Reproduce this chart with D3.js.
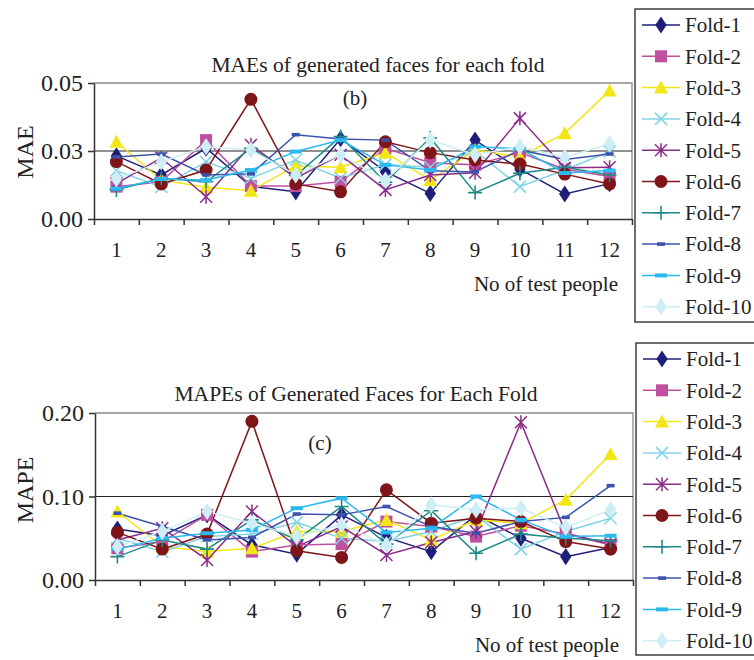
<!DOCTYPE html>
<html>
<head>
<meta charset="utf-8">
<script src="https://cdn.jsdelivr.net/npm/d3@7"></script>
<style>
  body { margin: 0; background: #fff; }
  svg { display: block; }
  text { font-family: "Liberation Serif", "DejaVu Serif", serif; fill: #222; }
</style>
</head>
<body>
<script>
const W = 754, H = 660;

// categories: test people 1..12
const people = ["1", "2", "3", "4", "5", "6", "7", "8", "9", "10", "11", "12"];
const folds = ["Fold-1", "Fold-2", "Fold-3", "Fold-4", "Fold-5", "Fold-6", "Fold-7", "Fold-8", "Fold-9", "Fold-10"];

// MAE per fold (panel b)
const mae1 = [0.0232, 0.0162, 0.026, 0.012, 0.010, 0.0295, 0.0174, 0.0094, 0.029, 0.0183, 0.0092, 0.013];
const mae2 = [0.0119, 0.0137, 0.029, 0.0121, 0.0121, 0.0137, 0.026, 0.0207, 0.0199, 0.0244, 0.0183, 0.0156];
const mae3 = [0.0284, 0.0143, 0.0117, 0.0104, 0.0195, 0.019, 0.0244, 0.0143, 0.0254, 0.0228, 0.0315, 0.0472];
const mae4 = [0.0178, 0.0118, 0.021, 0.015, 0.0217, 0.015, 0.020, 0.019, 0.025, 0.0119, 0.018, 0.0248];
const mae5 = [0.013, 0.0225, 0.0082, 0.0272, 0.015, 0.0236, 0.0107, 0.0162, 0.017, 0.037, 0.0188, 0.019];
const mae6 = [0.0211, 0.0129, 0.018, 0.044, 0.0129, 0.010, 0.0284, 0.0244, 0.0217, 0.0202, 0.0165, 0.0129];
const mae7 = [0.0107, 0.015, 0.0137, 0.026, 0.016, 0.0303, 0.0135, 0.0298, 0.0097, 0.0168, 0.019, 0.0162];
const mae8 = [0.0228, 0.0239, 0.0162, 0.0166, 0.031, 0.0294, 0.029, 0.0177, 0.0173, 0.0254, 0.0219, 0.0239];
const mae9 = [0.0112, 0.0147, 0.0143, 0.018, 0.0248, 0.029, 0.0199, 0.018, 0.0266, 0.0258, 0.0169, 0.0178];
const mae10 = [0.0147, 0.021, 0.0266, 0.0254, 0.0162, 0.0236, 0.0143, 0.029, 0.0236, 0.0266, 0.0227, 0.0276];

// MAPE per fold (panel c)
const mape1 = [0.061, 0.053, 0.078, 0.042, 0.031, 0.078, 0.051, 0.034, 0.078, 0.050, 0.028, 0.039];
const mape2 = [0.038, 0.046, 0.078, 0.034, 0.042, 0.043, 0.070, 0.064, 0.052, 0.065, 0.055, 0.042];
const mape3 = [0.082, 0.040, 0.034, 0.038, 0.058, 0.058, 0.072, 0.048, 0.072, 0.068, 0.096, 0.151];
const mape4 = [0.050, 0.034, 0.052, 0.055, 0.069, 0.050, 0.046, 0.058, 0.077, 0.037, 0.058, 0.074];
const mape5 = [0.048, 0.062, 0.024, 0.082, 0.040, 0.064, 0.030, 0.045, 0.058, 0.189, 0.056, 0.043];
const mape6 = [0.057, 0.037, 0.055, 0.190, 0.035, 0.027, 0.108, 0.068, 0.074, 0.070, 0.046, 0.037];
const mape7 = [0.028, 0.048, 0.037, 0.072, 0.048, 0.088, 0.043, 0.083, 0.032, 0.055, 0.050, 0.047];
const mape8 = [0.080, 0.064, 0.048, 0.051, 0.079, 0.078, 0.088, 0.064, 0.056, 0.070, 0.075, 0.113];
const mape9 = [0.037, 0.050, 0.056, 0.060, 0.086, 0.098, 0.057, 0.062, 0.100, 0.072, 0.052, 0.053];
const mape10 = [0.040, 0.058, 0.082, 0.068, 0.052, 0.066, 0.042, 0.090, 0.084, 0.086, 0.063, 0.084];

// y ticks
const maeTicks = [0, 0.025, 0.05];
const maeTickLabels = ["0.00", "0.03", "0.05"];
const mapeTicks = [0, 0.1, 0.2];
const mapeTickLabels = ["0.00", "0.10", "0.20"];

// series styling (Excel-like palette)
const colors = ["#1f1f7a", "#c0509f", "#f2e614", "#80d4e4", "#8a2c88", "#7f1518", "#1d8a87", "#3c53ae", "#2bb9ef", "#cdeef5"];
const shapes = ["diamond", "square", "triangle", "x", "star", "circle", "plus", "dash", "bar", "diamond"];

let svg = d3.select("body").append("svg").attr("width", W).attr("height", H);

function drawMarker(g, shape, color, x, y) {
  if (shape === "diamond") {
    g.append("path").attr("d", d3.symbol(d3.symbolDiamond, 85)())
      .attr("transform", "translate(" + x + "," + y + ") scale(1.15,1)")
      .attr("fill", color);
  } else if (shape === "square") {
    g.append("rect").attr("x", x - 6).attr("y", y - 6).attr("width", 12).attr("height", 12).attr("fill", color);
  } else if (shape === "triangle") {
    g.append("path").attr("d", "M" + x + "," + (y - 7) + "L" + (x + 7) + "," + (y + 6) + "L" + (x - 7) + "," + (y + 6) + "Z")
      .attr("fill", color);
  } else if (shape === "circle") {
    g.append("circle").attr("cx", x).attr("cy", y).attr("r", 6.5).attr("fill", color);
  } else if (shape === "x" || shape === "star") {
    let s = 6;
    let d = "M" + (x - s) + "," + (y - s) + "L" + (x + s) + "," + (y + s) +
      "M" + (x - s) + "," + (y + s) + "L" + (x + s) + "," + (y - s);
    if (shape === "star") d += "M" + x + "," + (y - 7) + "L" + x + "," + (y + 7);
    g.append("path").attr("d", d).attr("stroke", color).attr("stroke-width", 1.5).attr("fill", "none");
  } else if (shape === "plus") {
    g.append("path").attr("d", "M" + (x - 7) + "," + y + "L" + (x + 7) + "," + y + "M" + x + "," + (y - 7) + "L" + x + "," + (y + 7))
      .attr("stroke", color).attr("stroke-width", 1.6).attr("fill", "none");
  } else if (shape === "dash") {
    g.append("rect").attr("x", x - 4).attr("y", y - 1.8).attr("width", 8).attr("height", 3.6).attr("fill", color);
  } else if (shape === "bar") {
    g.append("rect").attr("x", x - 6).attr("y", y - 2).attr("width", 12).attr("height", 4).attr("fill", color);
  }
}

function drawPanel(cfg) {
  let g = svg.append("g");

  let xBand = d3.scaleBand().domain(people).range([cfg.left, cfg.right]);
  let xEdge = d3.scaleLinear().domain([0, people.length]).range([cfg.left, cfg.right]);
  let y = d3.scaleLinear().domain(cfg.yDomain).range([cfg.bottom, cfg.top]);

  // plot area border (top + right)
  g.append("path")
    .attr("d", "M" + cfg.left + "," + cfg.top + "H" + cfg.right + "V" + cfg.bottom)
    .attr("stroke", "#8a8a8a").attr("stroke-width", 1.3).attr("fill", "none");

  // gridline at middle tick
  g.append("line")
    .attr("x1", cfg.left).attr("x2", cfg.right)
    .attr("y1", y(cfg.ticks[1])).attr("y2", y(cfg.ticks[1]))
    .attr("stroke", "#222").attr("stroke-width", 1.2);

  // title
  g.append("text").attr("x", cfg.titleX).attr("y", cfg.titleY)
    .attr("text-anchor", "middle").style("font-size", "21.5px").text(cfg.title);

  // panel tag
  g.append("text").attr("x", cfg.tagX).attr("y", cfg.tagY)
    .attr("text-anchor", "middle").style("font-size", "21px").text(cfg.tag);

  // series
  cfg.series.forEach(function (vals, i) {
    let line = d3.line()
      .x(function (d, j) { return xBand(people[j]) + xBand.bandwidth() / 2; })
      .y(function (d) { return y(d); });
    g.append("path").datum(vals)
      .attr("d", line)
      .attr("fill", "none")
      .attr("stroke", colors[i])
      .attr("stroke-width", 1.5);
  });
  cfg.series.forEach(function (vals, i) {
    vals.forEach(function (v, j) {
      drawMarker(g, shapes[i], colors[i], xBand(people[j]) + xBand.bandwidth() / 2, y(v));
    });
  });

  // y axis
  let yAxis = d3.axisLeft(y).tickValues(cfg.ticks)
    .tickFormat(function (d, i) { return cfg.tickLabels[i]; })
    .tickSizeOuter(0).tickSizeInner(6).tickPadding(5);
  let ya = g.append("g").attr("transform", "translate(" + cfg.left + ",0)").call(yAxis);
  ya.attr("font-family", null);
  ya.selectAll("text").style("font-size", "24px").attr("fill", "#222");
  ya.selectAll("line, path").attr("stroke", "#333").attr("stroke-width", 1.5);

  // x axis ticks between categories
  let xTickAxis = d3.axisBottom(xEdge).tickValues(d3.range(0, people.length + 1))
    .tickFormat("").tickSizeOuter(0).tickSizeInner(6);
  let xa = g.append("g").attr("transform", "translate(0," + cfg.bottom + ")").call(xTickAxis);
  xa.selectAll("line, path").attr("stroke", "#333").attr("stroke-width", 1.5);

  // category labels
  let xLabAxis = d3.axisBottom(xBand).tickSize(0).tickPadding(23);
  let xl = g.append("g").attr("transform", "translate(0," + cfg.bottom + ")").call(xLabAxis);
  xl.attr("font-family", null);
  xl.select(".domain").remove();
  xl.selectAll("text").style("font-size", "21px").attr("fill", "#222");

  // axis titles
  g.append("text").attr("x", cfg.right - 14).attr("y", cfg.bottom + 72)
    .attr("text-anchor", "end").style("font-size", "21px").text("No of test people");
  g.append("text")
    .attr("transform", "translate(" + 33 + "," + cfg.yTitleY + ") rotate(-90)")
    .attr("text-anchor", "middle").style("font-size", "24px").text(cfg.yTitle);

  // legend
  let lg = g.append("g").attr("transform", "translate(" + cfg.legendX + "," + cfg.legendY + ")");
  lg.append("rect").attr("x", 0).attr("y", 0).attr("width", 140).attr("height", cfg.legendH)
    .attr("fill", "#fff").attr("stroke", "#222").attr("stroke-width", 1.3);
  folds.forEach(function (f, i) {
    let ly = 16 + i * 31.3;
    lg.append("line").attr("x1", 7).attr("x2", 45).attr("y1", ly).attr("y2", ly)
      .attr("stroke", colors[i]).attr("stroke-width", 1.5);
    drawMarker(lg, shapes[i], colors[i], 26, ly);
    lg.append("text").attr("x", 50).attr("y", ly).attr("dy", "0.35em")
      .style("font-size", "21px").text(f);
  });
}

drawPanel({
  left: 94, right: 632, top: 83, bottom: 219,
  yDomain: [0, 0.05], ticks: maeTicks, tickLabels: maeTickLabels,
  series: [mae1, mae2, mae3, mae4, mae5, mae6, mae7, mae8, mae9, mae10],
  title: "MAEs of generated faces for each fold", titleX: 378, titleY: 72,
  tag: "(b)", tagX: 355, tagY: 105,
  yTitle: "MAE", yTitleY: 152,
  legendX: 635, legendY: 9, legendH: 313
});

drawPanel({
  left: 95, right: 633, top: 413, bottom: 580,
  yDomain: [0, 0.2], ticks: mapeTicks, tickLabels: mapeTickLabels,
  series: [mape1, mape2, mape3, mape4, mape5, mape6, mape7, mape8, mape9, mape10],
  title: "MAPEs of Generated Faces for Each Fold", titleX: 356, titleY: 401,
  tag: "(c)", tagX: 320, tagY: 450,
  yTitle: "MAPE", yTitleY: 490,
  legendX: 636, legendY: 343, legendH: 312
});
</script>
</body>
</html>
